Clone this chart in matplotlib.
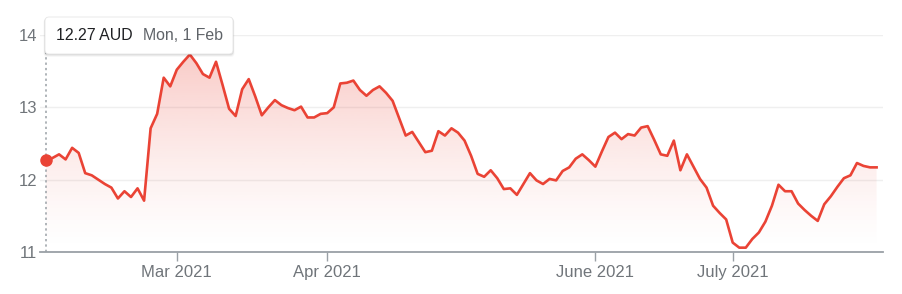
import numpy as np
import pandas as pd
import matplotlib
matplotlib.use("Agg")
import matplotlib.pyplot as plt
from matplotlib.patches import FancyBboxPatch
from matplotlib.transforms import IdentityTransform

plt.rcParams['font.family'] = ['Liberation Sans', 'DejaVu Sans']

# ---------------- data ----------------
holidays = ["2021-04-02", "2021-04-05", "2021-06-14"]
dates = [d for d in pd.bdate_range("2021-02-01", "2021-08-02")
         if d.strftime("%Y-%m-%d") not in holidays]

prices = [
    12.27, 12.30, 12.35, 12.28, 12.44, 12.37, 12.09, 12.06, 12.00, 11.94,
    11.89, 11.74, 11.84, 11.76, 11.88, 11.71, 12.71, 12.91, 13.41, 13.29,
    13.52, 13.63, 13.73, 13.61, 13.46, 13.41, 13.63, 13.31, 12.98, 12.88,
    13.25, 13.39, 13.15, 12.89, 13.00, 13.10, 13.03, 12.99, 12.96, 13.01,
    12.86, 12.86, 12.91, 12.92, 13.00, 13.33, 13.34, 13.37, 13.24, 13.16,
    13.24, 13.29, 13.20, 13.09, 12.85, 12.61, 12.66, 12.52, 12.38, 12.40,
    12.67, 12.61, 12.71, 12.65, 12.54, 12.33, 12.08, 12.04, 12.13, 12.02,
    11.87, 11.88, 11.79, 11.94, 12.09, 11.99, 11.94, 12.01, 11.99, 12.12,
    12.17, 12.29, 12.35, 12.27, 12.18, 12.39, 12.59, 12.65, 12.56, 12.63,
    12.61, 12.72, 12.74, 12.55, 12.35, 12.33, 12.54, 12.13, 12.35, 12.18,
    12.01, 11.89, 11.64, 11.54, 11.45, 11.13, 11.06, 11.06, 11.18, 11.27,
    11.42, 11.64, 11.93, 11.84, 11.84, 11.67, 11.58, 11.50, 11.43, 11.66,
    11.77, 11.90, 12.02, 12.06, 12.23, 12.19, 12.17, 12.17,
]

tick_dates = ["2021-03-01", "2021-04-01", "2021-06-01", "2021-07-01"]
tick_labels = ["Mar 2021", "Apr 2021", "June 2021", "July 2021"]
y_ticks = [11, 12, 13, 14]
currency = "AUD"
tooltip_date = "Mon, 1 Feb"

# ---------------- figure ----------------
W, H = 902, 294
fig = plt.figure(figsize=(W / 100, H / 100), dpi=100)


def fx(px):
    return px / W


def fy(py):
    return 1 - py / H


ax = fig.add_axes([fx(39.5), fy(252), fx(883) - fx(39.5), fy(35) - fy(252)])

n = min(len(dates), len(prices))
x = np.arange(n)
y = np.array(prices[:n])
red = "#ea4335"

# gradient fill under the line
rgb = matplotlib.colors.to_rgb(red)
grad = np.zeros((256, 1, 4))
grad[..., :3] = rgb
t = np.linspace(0.0, 1.0, 256)
grad[:, 0, 3] = 0.31 * t ** 1.35
poly = ax.fill_between(x, y, y_ticks[0], facecolor="none", edgecolor="none")
img = ax.imshow(grad, extent=[x[0], x[-1], y_ticks[0], y_ticks[-1]],
                origin="lower", aspect="auto", zorder=1,
                interpolation="bilinear")
img.set_clip_path(poly.get_paths()[0], transform=ax.transData)

# hover guide line
ax.plot([x[0], x[0]], [y_ticks[0], y_ticks[-1]], ls=(0, (1.5, 2.0)),
        color="#9aa0a6", lw=1.1, zorder=2)

# price line
ax.plot(x, y, color=red, lw=1.9, zorder=3, solid_joinstyle="round")
ax.plot([x[0]], [y[0]], "o", ms=8, color=red, zorder=4, clip_on=False)

ax.set_xlim(-0.99, n - 1 + 0.98)
ax.set_ylim(y_ticks[0], y_ticks[-1])

# axes styling
date_strs = [d.strftime("%Y-%m-%d") for d in dates[:n]]
tick_pos = [date_strs.index(tk) for tk in tick_dates]
ax.set_xticks(tick_pos)
ax.set_xticklabels(tick_labels)
ax.set_yticks(y_ticks)
ax.set_yticklabels([str(v) for v in y_ticks])

for s in ["left", "right", "top"]:
    ax.spines[s].set_visible(False)
ax.spines["bottom"].set_color("#9aa0a6")
ax.spines["bottom"].set_linewidth(1.3)
ax.spines["bottom"].set_zorder(5)

ax.yaxis.grid(True, color="#efefef", lw=1)
ax.set_axisbelow(True)
ax.tick_params(axis="y", length=0, pad=1.5, labelsize=12, labelcolor="#70757a")
ax.tick_params(axis="x", length=6.5, width=1, color="#9aa0a6", pad=3,
               labelsize=12, labelcolor="#70757a")

# tooltip box (pixel coordinates)
bx0, by0, bx1, by1 = 45, 17, 233, 54
for k, a in [(3, 0.03), (2, 0.05), (1, 0.07)]:
    sh = FancyBboxPatch((bx0 - k * 0.5, H - by1 - k), bx1 - bx0 + k, by1 - by0 + k * 0.5,
                        boxstyle="round,pad=0,rounding_size=4",
                        transform=IdentityTransform(), facecolor="black",
                        edgecolor="none", alpha=a, zorder=9)
    fig.add_artist(sh)
box = FancyBboxPatch((bx0, H - by1), bx1 - bx0, by1 - by0,
                     boxstyle="round,pad=0,rounding_size=4",
                     transform=IdentityTransform(), facecolor="white",
                     edgecolor="#e6e6e6", lw=0.6, zorder=10)
fig.add_artist(box)
fig.text(fx(56), fy(35.5), f"{prices[0]:.2f} {currency}", ha="left", va="center",
         fontsize=11.4, color="#202124", zorder=11)
fig.text(fx(143), fy(35.5), tooltip_date, ha="left", va="center",
         fontsize=11.4, color="#5f6368", zorder=11)

fig.savefig("out.png", dpi=100)
